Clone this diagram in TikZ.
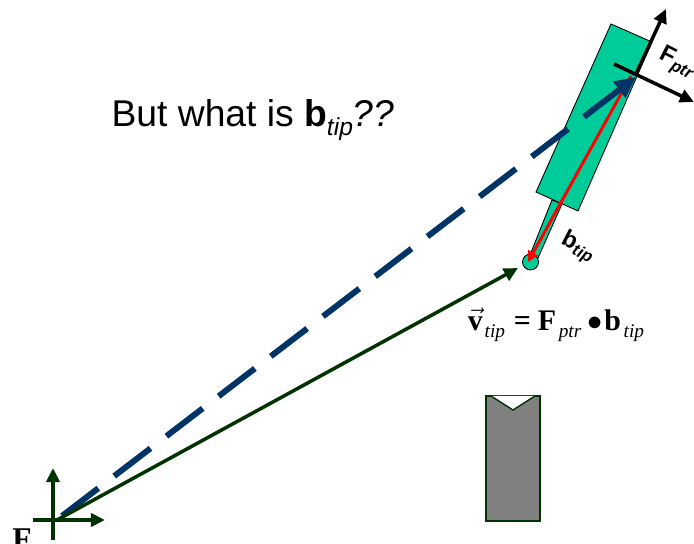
\documentclass[tikz,border=0pt]{standalone}
\usepackage{fontspec}
\setmainfont{Liberation Sans}
\newfontfamily\eqfont{Liberation Serif}
\usetikzlibrary{arrows.meta}
\definecolor{toolgreen}{HTML}{00CC99}
\definecolor{framegreen}{HTML}{003300}
\definecolor{navyblue}{HTML}{003366}
\newcommand{\subtext}[3]{\raisebox{#1}{\fontsize{#2}{#2}\selectfont\itshape #3}}
\tikzset{
  part/.style={draw=black, line width=0.5pt, fill=toolgreen},
  frameaxis/.style={line width=2pt, draw=black, -{Triangle[length=8pt,width=7.5pt]}},
  worldaxis/.style={line width=2pt, draw=framegreen, -{Triangle[length=8pt,width=7.5pt]}},
}
\begin{document}
\begin{tikzpicture}[line width=0.6pt]
  \useasboundingbox (0,0) rectangle (13.88,10.88);
  % pointer
  \coordinate (bodyA) at (12.22,10.40);
  \coordinate (bodyB) at (13.04,10.04);
  \coordinate (bodyC) at (11.56,6.66);
  \coordinate (bodyD) at (10.72,7.04);
  \coordinate (shaftA) at (11.04,6.88);
  \coordinate (shaftB) at (11.24,6.80);
  \coordinate (shaftC) at (10.76,5.72);
  \coordinate (shaftD) at (10.60,5.78);
  \coordinate (tipO) at (10.61,5.64);
  \draw[part] (bodyA) -- (bodyB) -- (bodyC) -- (bodyD) -- cycle;
  \draw[part] (shaftA) -- (shaftB) -- (shaftC) -- (shaftD) -- cycle;
  \draw[part] (tipO) circle (0.16);
  % frames
  \coordinate (ptrO) at (12.72,9.40);
  \coordinate (ptrUp) at (13.32,10.70);
  \coordinate (ptrBack) at (12.28,9.60);
  \coordinate (ptrRight) at (13.88,8.84);
  \coordinate (worldUp) at (1.06,1.52);
  \coordinate (worldDown) at (1.06,0.08);
  \coordinate (worldBack) at (0.66,0.48);
  \coordinate (worldRight) at (2.10,0.48);
  \draw[frameaxis] (ptrO) -- (ptrUp);
  \draw[frameaxis] (ptrBack) -- (ptrRight);
  \draw[worldaxis] (worldDown) -- (worldUp);
  \draw[worldaxis] (worldBack) -- (worldRight);
  % vectors
  \coordinate (redA) at (12.62,9.36);
  \coordinate (redB) at (10.56,5.64);
  \coordinate (navyA) at (1.24,0.56);
  \coordinate (navyB) at (12.72,9.34);
  \coordinate (greenA) at (1.14,0.48);
  \coordinate (greenB) at (10.36,5.52);
  \draw[red, line width=1.7pt, -{Triangle[length=6pt,width=6pt]}] (redA) -- (redB);
  \draw[navyblue, line width=3.4pt, dash pattern=on 26pt off 11.4pt, -{Triangle[length=12pt,width=11pt]}] (navyA) -- (navyB);
  \draw[worldaxis] (greenA) -- (greenB);
  % block
  \coordinate (blockA) at (9.72,2.96);
  \coordinate (blockB) at (10.80,0.46);
  \coordinate (notchA) at (9.82,2.96);
  \coordinate (notchB) at (10.26,2.68);
  \coordinate (notchC) at (10.70,2.96);
  \draw[draw=framegreen, line width=0.8pt, fill=gray] (blockA) rectangle (blockB);
  \draw[draw=framegreen, line width=0.8pt, fill=white] (notchA) -- (notchB) -- (notchC);
  % labels
  \node[inner sep=0pt, font=\fontsize{21.2}{25}\selectfont] (question) at (5.06,8.48) {But what is \textbf{b}\subtext{-0.22em}{14}{tip}\textit{??}};
  \node[inner sep=0pt, rotate=-27, font=\fontsize{13.5}{16}\selectfont\bfseries] (ptrlabel) at (13.54,9.62) {F\subtext{-0.2em}{9.5}{ptr}};
  \node[inner sep=0pt, rotate=-27, font=\fontsize{13.5}{16}\selectfont\bfseries] (tiplabel) at (11.56,5.94) {b\subtext{-0.2em}{9.5}{tip}};
  \node[inner sep=0pt, font=\eqfont\fontsize{17}{20}\selectfont] (equation) at (11.12,4.38) {$\vec{\mbox{\eqfont\bfseries v}}$\hspace{1pt}\subtext{-0.25em}{11}{tip}\hspace{5pt}\textbf{=}\hspace{4pt}\textbf{F}\hspace{1.5pt}\subtext{-0.25em}{11}{ptr}\hspace{3.5pt}$\bullet$\hspace{1pt}\textbf{b}\hspace{1.5pt}\subtext{-0.25em}{11}{tip}};
  \node[inner sep=0pt, font=\eqfont\fontsize{18}{20}\selectfont\bfseries] (worldlabel) at (0.44,0.10) {F};
\end{tikzpicture}
\end{document}
